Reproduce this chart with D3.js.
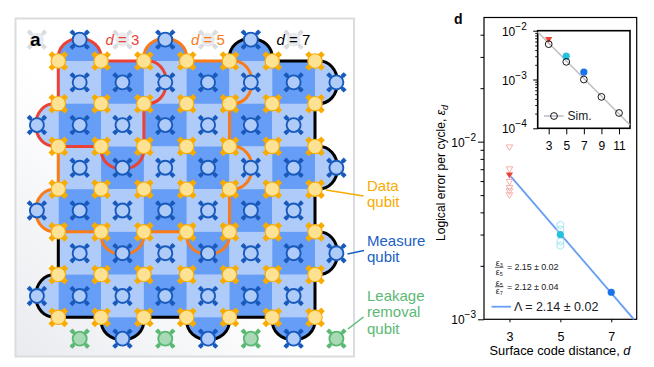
<!DOCTYPE html>
<html>
<head>
<meta charset="utf-8">
<script src="https://cdnjs.cloudflare.com/ajax/libs/d3/7.8.5/d3.min.js"></script>
<style>
html, body { margin: 0; padding: 0; background: #fff; }
svg { display: block; }
text { font-family: "Liberation Sans", Arial, sans-serif; }
</style>
</head>
<body>
<svg id="chart" width="654" height="367"></svg>
<script>
'use strict'

// panel a, everything in grid units (data qubits sit on whole numbers)
var dataIdx = [0, 1, 2, 3, 4, 5, 6];
var cellIdx = [0, 1, 2, 3, 4, 5];
var innerIdx = [0.5, 1.5, 2.5, 3.5, 4.5, 5.5];
var topMeasure = [0.5, 2.5, 4.5];
var bottomMeasure = [1.5, 3.5, 5.5];
var leftMeasure = [1.5, 3.5, 5.5];
var rightMeasure = [0.5, 2.5, 4.5];
var leakage = [[0.5, 6.5], [2.5, 6.5], [4.5, 6.5], [6.5, 6.5]];
var greyMarks = [[-0.5, -0.5], [1.5, -0.5], [3.5, -0.5], [5.5, -0.5]];

// outlines, clockwise, 'a' = bulge out to next corner, 'l' = straight
var outlineD3 = [[0, 0], ['a', 1, 0], ['l', 2, 0], ['a', 2, 1], ['l', 2, 2], ['a', 1, 2], ['l', 0, 2], ['a', 0, 1], ['l', 0, 0]];
var outlineD5 = [[2, 0], ['a', 3, 0], ['l', 4, 0], ['a', 4, 1], ['l', 4, 2], ['a', 4, 3], ['l', 4, 4], ['a', 3, 4], ['l', 2, 4], ['a', 1, 4], ['l', 0, 4], ['a', 0, 3], ['l', 0, 2]];
var outlineD7 = [[4, 0], ['a', 5, 0], ['l', 6, 0], ['a', 6, 1], ['l', 6, 2], ['a', 6, 3], ['l', 6, 4], ['a', 6, 5], ['l', 6, 6], ['a', 5, 6], ['l', 4, 6], ['a', 3, 6], ['l', 2, 6], ['a', 1, 6], ['l', 0, 6], ['a', 0, 5], ['l', 0, 4]];

// panel d
var distMain = [3, 5, 7];
var errMain = [6.5e-3, 3.0e-3, 1.42e-3];
var errD3Open = [9.3e-3, 7.0e-3, 5.95e-3, 5.5e-3, 5.27e-3, 5.0e-3];
var errD5Open = [3.4e-3, 3.2e-3, 2.75e-3, 2.6e-3];
var fitD = [3.06, 7.89];
var fitErr = [6.35e-3, 1.0e-3];
var yMajor = [1e-3, 1e-2];
var yMinor = [2e-3, 3e-3, 4e-3, 5e-3, 6e-3, 7e-3, 8e-3, 9e-3, 2e-2, 3e-2, 4e-2];

var distSim = [3, 5, 7, 9, 11];
var errSim = [5.3e-3, 2.3e-3, 1.0e-3, 4.4e-4, 2.06e-4];
var expInset = [6.6e-3, 3.0e-3, 1.42e-3];
var simLineD = [1.75, 12.25];
var simLineErr = [9.4e-3, 1.17e-4];
var insetMajor = [1e-4, 1e-3, 1e-2];
var insetMinor = [2e-4, 3e-4, 4e-4, 5e-4, 6e-4, 7e-4, 8e-4, 9e-4, 2e-3, 3e-3, 4e-3, 5e-3, 6e-3, 7e-3, 8e-3, 9e-3];

var BLUE_DARK = '#669df6', BLUE_LIGHT = '#aecbfa', BLUE_EDGE = '#185abc';
var AMBER = '#f9ab00', AMBER_LIGHT = '#fde293';
var GREEN = '#5bb974', GREEN_LIGHT = '#a8dab5';
var RED = '#ea4335', ORANGE = '#fa7b17', CYAN = '#24c1e0';

var svg = d3.select('#chart');
var defs = svg.append('defs');
var grad = defs.append('linearGradient').attr('id', 'panelBg')
	.attr('x1', '100%').attr('y1', '0%').attr('x2', '0%').attr('y2', '100%');
grad.append('stop').attr('offset', '55%').attr('stop-color', '#ffffff');
grad.append('stop').attr('offset', '100%').attr('stop-color', '#e9ebef');

svg.append('rect')
	.attr('x', 15.5).attr('y', 18.5).attr('width', 338.5).attr('height', 338)
	.attr('fill', 'url(#panelBg)').attr('stroke', '#dadce0').attr('stroke-width', 2);

var gx = d3.scaleLinear().domain([0, 6]).range([58.3, 315]);
var gy = d3.scaleLinear().domain([0, 6]).range([61, 317.3]);

var panelA = svg.append('g');

// checkerboard
panelA.selectAll('rect.cell')
	.data(d3.cross(cellIdx, cellIdx))
	.join('rect')
	.attr('class', 'cell')
	.attr('x', function(d) { return gx(d[0]); })
	.attr('y', function(d) { return gy(d[1]); })
	.attr('width', gx(1) - gx(0) + 0.3)
	.attr('height', gy(1) - gy(0) + 0.3)
	.attr('fill', function(d) { return (d[0] + d[1]) % 2 ? BLUE_DARK : BLUE_LIGHT; });

// bulge from corner to corner, going clockwise so that outward is on the left
function bulge(p, x0, y0, x1, y1) {
	var dx = x1 - x0, dy = y1 - y0, len = Math.hypot(dx, dy);
	var tx = dx / len, ty = dy / len;
	var nx = ty, ny = -tx;
	var h = 30, w = 3;
	p.bezierCurveTo(x0 + nx * h - tx * w, y0 + ny * h - ty * w, x1 + nx * h + tx * w, y1 + ny * h + ty * w, x1, y1);
}

function outlinePath(points) {
	var p = d3.path();
	p.moveTo(gx(points[0][0]), gy(points[0][1]));
	var prev = points[0];
	points.slice(1).forEach(function(pt) {
		if (pt[0] == 'a') bulge(p, gx(prev[prev.length - 2]), gy(prev[prev.length - 1]), gx(pt[1]), gy(pt[2]));
		else p.lineTo(gx(pt[1]), gy(pt[2]));
		prev = pt;
	});
	return p.toString();
}

function semiPath(a, b) {
	var p = d3.path();
	p.moveTo(gx(a[0]), gy(a[1]));
	bulge(p, gx(a[0]), gy(a[1]), gx(b[0]), gy(b[1]));
	p.closePath();
	return p.toString();
}

// half plaquettes on the boundary
var semis = [];
topMeasure.forEach(function(c) { semis.push({ a: [c - 0.5, 0], b: [c + 0.5, 0], fill: BLUE_DARK }); });
bottomMeasure.forEach(function(c) { semis.push({ a: [c + 0.5, 6], b: [c - 0.5, 6], fill: BLUE_DARK }); });
leftMeasure.forEach(function(c) { semis.push({ a: [0, c + 0.5], b: [0, c - 0.5], fill: BLUE_LIGHT }); });
rightMeasure.forEach(function(c) { semis.push({ a: [6, c - 0.5], b: [6, c + 0.5], fill: BLUE_LIGHT }); });

panelA.selectAll('path.semi')
	.data(semis)
	.join('path')
	.attr('class', 'semi')
	.attr('d', function(d) { return semiPath(d.a, d.b); })
	.attr('fill', function(d) { return d.fill; });

[[outlineD7, '#000000'], [outlineD5, ORANGE], [outlineD3, RED]].forEach(function(o) {
	panelA.append('path')
		.attr('d', outlinePath(o[0]))
		.attr('fill', 'none')
		.attr('stroke', o[1])
		.attr('stroke-width', 3);
});

var knob = d3.symbol().type(d3.symbolSquare).size(17);
var arms = [[-1, -1], [1, -1], [1, 1], [-1, 1]];

function drawSmallQubit(pos, edge, fill) {
	var g = panelA.append('g').attr('transform', 'translate(' + gx(pos[0]) + ',' + gy(pos[1]) + ')');
	arms.forEach(function(a) {
		g.append('line').attr('x1', 0).attr('y1', 0).attr('x2', a[0] * 7).attr('y2', a[1] * 7)
			.attr('stroke', edge).attr('stroke-width', 2.4);
		g.append('path').attr('d', knob())
			.attr('transform', 'translate(' + a[0] * 7.3 + ',' + a[1] * 7.3 + ') rotate(45)')
			.attr('fill', edge);
	});
	g.append('circle').attr('r', 7).attr('fill', fill).attr('stroke', edge).attr('stroke-width', 1.9);
}

function drawGrey(pos) {
	var g = panelA.append('g').attr('transform', 'translate(' + gx(pos[0]) + ',' + gy(pos[1]) + ')');
	arms.forEach(function(a) {
		g.append('line').attr('x1', 0).attr('y1', 0).attr('x2', a[0] * 7).attr('y2', a[1] * 7)
			.attr('stroke', '#dadce0').attr('stroke-width', 3);
		g.append('path').attr('d', knob())
			.attr('transform', 'translate(' + a[0] * 7.3 + ',' + a[1] * 7.3 + ') rotate(45)')
			.attr('fill', '#dadce0');
	});
	g.append('circle').attr('r', 7).attr('fill', '#e8eaed');
}

function drawDataQubit(pos) {
	var g = panelA.append('g').attr('transform', 'translate(' + gx(pos[0]) + ',' + gy(pos[1]) + ')');
	arms.forEach(function(a) {
		g.append('line').attr('x1', 0).attr('y1', 0).attr('x2', a[0] * 8).attr('y2', a[1] * 8)
			.attr('stroke', AMBER).attr('stroke-width', 5.2);
	});
	g.append('circle').attr('r', 7.2).attr('fill', AMBER_LIGHT).attr('stroke', AMBER).attr('stroke-width', 1.1);
}

greyMarks.forEach(drawGrey);
d3.cross(innerIdx, innerIdx).forEach(function(p) { drawSmallQubit(p, BLUE_EDGE, BLUE_LIGHT); });
topMeasure.forEach(function(c) { drawSmallQubit([c, -0.5], BLUE_EDGE, BLUE_LIGHT); });
bottomMeasure.forEach(function(c) { drawSmallQubit([c, 6.5], BLUE_EDGE, BLUE_LIGHT); });
leftMeasure.forEach(function(c) { drawSmallQubit([-0.5, c], BLUE_EDGE, BLUE_LIGHT); });
rightMeasure.forEach(function(c) { drawSmallQubit([6.5, c], BLUE_EDGE, BLUE_LIGHT); });
leakage.forEach(function(p) { drawSmallQubit(p, GREEN, GREEN_LIGHT); });
d3.cross(dataIdx, dataIdx).forEach(drawDataQubit);

// text on panel a
svg.append('text').attr('x', 30).attr('y', 46).attr('font-size', 19).attr('font-weight', 'bold').text('a');

function dLabel(x, value, color) {
	var t = svg.append('text').attr('x', x).attr('y', 45).attr('font-size', 15)
		.attr('text-anchor', 'middle').attr('fill', color);
	t.append('tspan').attr('font-style', 'italic').text('d');
	t.append('tspan').text(' = ' + value);
}
dLabel(122.5, 3, RED);
dLabel(208, 5, ORANGE);
dLabel(293.5, 7, '#000000');

var qubitLabels = [
	{ lines: ['Data', 'qubit'], y: 191, color: AMBER, lead: [326, 190, 363.5, 196] },
	{ lines: ['Measure', 'qubit'], y: 246, color: '#1a5fc4', lead: [347.5, 254, 364, 250.5] },
	{ lines: ['Leakage', 'removal', 'qubit'], y: 301, color: GREEN, lead: [348, 329, 363.5, 317] }
];
qubitLabels.forEach(function(q) {
	q.lines.forEach(function(s, i) {
		svg.append('text').attr('x', 367).attr('y', q.y + i * 16.4).attr('font-size', 15).attr('fill', q.color).text(s);
	});
	svg.append('line')
		.attr('x1', q.lead[0]).attr('y1', q.lead[1]).attr('x2', q.lead[2]).attr('y2', q.lead[3])
		.attr('stroke', q.color).attr('stroke-width', 1.5);
});

// panel d, main axes
var x = d3.scaleLinear().domain([2, 8]).range([484, 636.7]);
var y = d3.scaleLog().domain([1e-3, 5e-2]).range([319.3, 17.5]);

var main = svg.append('g');

function styleAxis(g, width) {
	g.select('.domain').remove();
	g.selectAll('line').attr('stroke', '#000').attr('stroke-width', width);
	g.selectAll('text').attr('fill', '#000');
}

function powerLabels(g, tickLen, fontSize, expSize) {
	g.selectAll('text').remove();
	g.selectAll('.tick').append('text')
		.attr('x', -tickLen - 2)
		.attr('y', 4.5)
		.attr('text-anchor', 'end')
		.attr('font-size', fontSize)
		.attr('fill', '#000')
		.each(function(d) {
			var t = d3.select(this);
			t.append('tspan').text('10');
			t.append('tspan').attr('font-size', expSize).attr('dy', -6).text('\u2212' + Math.round(-Math.log10(d)));
		});
}

main.append('g').attr('transform', 'translate(484,0)')
	.call(d3.axisLeft(y).tickValues(yMinor).tickSize(3.5).tickFormat(''))
	.call(styleAxis, 1);
main.append('g').attr('transform', 'translate(484,0)')
	.call(d3.axisLeft(y).tickValues(yMajor).tickSize(6))
	.call(styleAxis, 1)
	.call(powerLabels, 6, 12, 10);
main.append('g').attr('transform', 'translate(0,319.3)')
	.call(d3.axisBottom(x).tickValues(distMain).tickSize(3).tickPadding(10).tickFormat(d3.format('d')))
	.call(styleAxis, 1)
	.call(function(g) { g.selectAll('text').attr('font-size', 12.5); });

main.append('rect')
	.attr('x', x.range()[0]).attr('y', y.range()[1])
	.attr('width', x.range()[1] - x.range()[0]).attr('height', y.range()[0] - y.range()[1])
	.attr('fill', 'none').attr('stroke', '#000').attr('stroke-width', 1.2);

var fitLine = d3.line().x(function(d) { return x(d[0]); }).y(function(d) { return y(d[1]); });
main.append('path')
	.attr('d', fitLine(d3.zip(fitD, fitErr)))
	.attr('fill', 'none').attr('stroke', BLUE_DARK).attr('stroke-width', 1.8);

var custom_shapes = {
	triDown: function(radius) {
		var points = [[-radius, -radius * 0.7], [radius, -radius * 0.7], [0, radius], [-radius, -radius * 0.7]];
		return d3.line()(points);
	},
	hexagon: function(radius) {
		var points = [[radius, 0], [radius / 2, radius * .865], [-radius / 2, radius * .865], [-radius, 0], [-radius / 2, -radius * .865], [radius / 2, -radius * .865], [radius, 0]];
		return d3.line()(points.map(function(p) { return [p[1], p[0]]; }));
	}
};

main.selectAll('path.openTri')
	.data(errD3Open)
	.join('path')
	.attr('class', 'openTri')
	.attr('d', custom_shapes.triDown(3.3))
	.attr('transform', function(d) { return 'translate(' + x(3) + ',' + y(d) + ')'; })
	.attr('fill', 'none').attr('stroke', '#f6aea9').attr('stroke-width', 1);

main.selectAll('path.openHex')
	.data(errD5Open)
	.join('path')
	.attr('class', 'openHex')
	.attr('d', custom_shapes.hexagon(3.8))
	.attr('transform', function(d) { return 'translate(' + x(5) + ',' + y(d) + ')'; })
	.attr('fill', 'none').attr('stroke', '#a1e4f2').attr('stroke-width', 1);

main.append('path')
	.attr('d', custom_shapes.triDown(3.6))
	.attr('transform', 'translate(' + x(distMain[0]) + ',' + y(errMain[0]) + ')')
	.attr('fill', RED);
main.append('circle')
	.attr('cx', x(distMain[1])).attr('cy', y(errMain[1])).attr('r', 3.6).attr('fill', CYAN);
main.append('circle')
	.attr('cx', x(distMain[2])).attr('cy', y(errMain[2])).attr('r', 3.6).attr('fill', '#1a73e8');

// axis titles
svg.append('text').attr('x', 560).attr('y', 355).attr('text-anchor', 'middle').attr('font-size', 12.8)
	.call(function(t) {
		t.append('tspan').text('Surface code distance, ');
		t.append('tspan').attr('font-style', 'italic').text('d');
	});
svg.append('text').attr('transform', 'translate(445,241) rotate(-90)').attr('font-size', 12.1)
	.call(function(t) {
		t.append('tspan').text('Logical error per cycle, ');
		t.append('tspan').attr('font-style', 'italic').text('\u03b5');
		t.append('tspan').attr('font-style', 'italic').attr('font-size', 9).attr('dy', 2.5).text('d');
	});
svg.append('text').attr('x', 454).attr('y', 23.5).attr('font-size', 14).attr('font-weight', 'bold').text('d');

// ratios
function ratio(yBar, topN, botN, txt) {
	var g = svg.append('g').attr('fill', '#202124');
	g.append('text').attr('x', 499.3).attr('y', yBar - 1).attr('text-anchor', 'middle').attr('font-size', 9)
		.call(function(t) {
			t.append('tspan').text('\u03b5');
			t.append('tspan').attr('font-size', 5.5).attr('dy', 1).text(topN);
		});
	g.append('line').attr('x1', 495).attr('x2', 503.5).attr('y1', yBar).attr('y2', yBar)
		.attr('stroke', '#202124').attr('stroke-width', 0.7);
	g.append('text').attr('x', 499.3).attr('y', yBar + 7.5).attr('text-anchor', 'middle').attr('font-size', 9)
		.call(function(t) {
			t.append('tspan').text('\u03b5');
			t.append('tspan').attr('font-size', 5.5).attr('dy', 1).text(botN);
		});
	g.append('text').attr('x', 507).attr('y', yBar + 3).attr('font-size', 9).attr('letter-spacing', -0.1).text(txt);
}
ratio(267.3, '3', '5', '= 2.15 \u00b1 0.02');
ratio(286.7, '5', '7', '= 2.12 \u00b1 0.04');

svg.append('line').attr('x1', 491.5).attr('x2', 511).attr('y1', 306.7).attr('y2', 306.7)
	.attr('stroke', BLUE_DARK).attr('stroke-width', 1.8);
svg.append('text').attr('x', 514).attr('y', 311).attr('font-size', 12.5).attr('fill', '#202124')
	.text('\u039b = 2.14 \u00b1 0.02');

// inset
var xi = d3.scaleLinear().domain([1.75, 12.25]).range([537.7, 630]);
var yi = d3.scaleLog().domain([1e-4, 1e-2]).range([128.3, 30.7]);
var inset = svg.append('g');

inset.append('g').attr('transform', 'translate(537.7,0)')
	.call(d3.axisLeft(yi).tickValues(insetMinor).tickSize(2.5).tickFormat(''))
	.call(styleAxis, 0.9);
inset.append('g').attr('transform', 'translate(537.7,0)')
	.call(d3.axisLeft(yi).tickValues(insetMajor).tickSize(4.5))
	.call(styleAxis, 1)
	.call(powerLabels, 9, 12, 10);
inset.append('g').attr('transform', 'translate(0,128.3)')
	.call(d3.axisBottom(xi).tickValues(distSim).tickSize(6).tickPadding(7).tickFormat(d3.format('d')))
	.call(styleAxis, 1)
	.call(function(g) { g.selectAll('text').attr('font-size', 12); });

inset.append('rect')
	.attr('x', xi.range()[0]).attr('y', yi.range()[1])
	.attr('width', xi.range()[1] - xi.range()[0]).attr('height', yi.range()[0] - yi.range()[1])
	.attr('fill', 'none').attr('stroke', '#000').attr('stroke-width', 1.6);

var simLine = d3.line().x(function(d) { return xi(d[0]); }).y(function(d) { return yi(d[1]); });
inset.append('path')
	.attr('d', simLine(d3.zip(simLineD, simLineErr)))
	.attr('fill', 'none').attr('stroke', '#bdc1c6').attr('stroke-width', 1.6);

inset.append('path')
	.attr('d', custom_shapes.triDown(3.6))
	.attr('transform', 'translate(' + xi(distMain[0]) + ',' + yi(expInset[0]) + ')')
	.attr('fill', RED);
inset.append('circle').attr('cx', xi(distMain[1])).attr('cy', yi(expInset[1])).attr('r', 3.6).attr('fill', CYAN);
inset.append('circle').attr('cx', xi(distMain[2])).attr('cy', yi(expInset[2])).attr('r', 3.6).attr('fill', '#1a73e8');

inset.selectAll('circle.sim')
	.data(d3.zip(distSim, errSim))
	.join('circle')
	.attr('class', 'sim')
	.attr('cx', function(d) { return xi(d[0]); })
	.attr('cy', function(d) { return yi(d[1]); })
	.attr('r', 3.4)
	.attr('fill', 'none').attr('stroke', '#000').attr('stroke-width', 0.9);

inset.append('line').attr('x1', 544).attr('x2', 563.5).attr('y1', 116).attr('y2', 116)
	.attr('stroke', '#bdc1c6').attr('stroke-width', 1.6);
inset.append('circle').attr('cx', 554).attr('cy', 116).attr('r', 3.4)
	.attr('fill', 'none').attr('stroke', '#000').attr('stroke-width', 0.9);
inset.append('text').attr('x', 567.5).attr('y', 120).attr('font-size', 12).attr('fill', '#202124').text('Sim.');
</script>
</body>
</html>
